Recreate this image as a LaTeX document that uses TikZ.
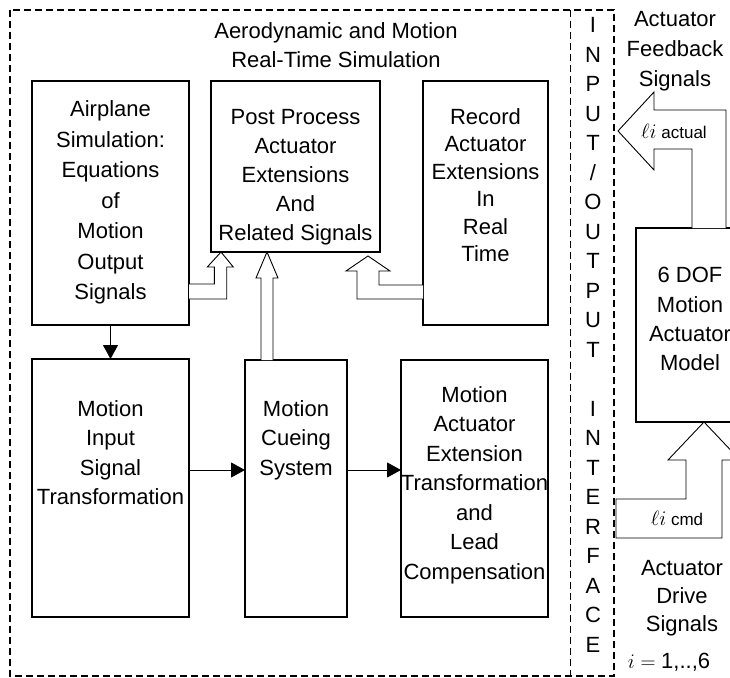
\documentclass[tikz,border=0pt]{standalone}
\usepackage{fontspec}
\setmainfont{Liberation Sans}
\usetikzlibrary{arrows.meta}
\tikzset{
  blk/.style={draw, line width=1.1pt, inner sep=0pt, outer sep=0pt},
  txt/.style={font=\fontsize{22}{#1}\selectfont, align=center, inner sep=0pt},
  txt/.default=29.5,
  small/.style={font=\fontsize{17}{20}\selectfont, inner sep=0pt},
  hol/.style={draw, fill=white, line width=0.9pt, line join=miter},
  conn/.style={line width=1pt, -{Triangle[length=14pt,width=15pt]}},
  frame/.style={line width=1.6pt, dash pattern=on 7pt off 4pt}
}
\newcommand{\sigl}{{\fontsize{21}{24}\selectfont$\ell i$}}
\begin{document}
\begin{tikzpicture}[x=1pt,y=-1pt]
\useasboundingbox (0,0) rectangle (730,677);
\clip (0,0) rectangle (730,677);

% simulation / interface frame
\draw[frame] (10,10) rectangle (614,676);
\draw[frame, line width=1pt] (570,10) -- (570,676);

% blocks
\node[blk, minimum width=157pt, minimum height=244pt] (air) at (110.5,203) {};
\node[blk, minimum width=169pt, minimum height=171pt] (post) at (295.5,166.5) {};
\node[blk, minimum width=125pt, minimum height=244pt] (rec) at (485.5,203) {};
\node[blk, minimum width=157pt, minimum height=258pt] (inp) at (110.5,488) {};
\node[blk, minimum width=102pt, minimum height=257pt] (cue) at (296,488.5) {};
\node[blk, minimum width=147pt, minimum height=257pt] (ext) at (474.5,488.5) {};
\node[blk, minimum width=109pt, minimum height=194pt] (dof) at (690.5,325) {};

% block texts
\node[txt=28.5] (ttl) at (336,47.5) {\strut Aerodynamic and Motion\\Real-Time Simulation\strut};
\node[txt=30.5] (tair) at (110.5,202) {\strut Airplane\\Simulation:\\Equations\\of\\Motion\\Output\\Signals\strut};
\node[txt=29] (tpost) at (295.5,177) {\strut Post Process\\Actuator\\Extensions\\And\\Related Signals\strut};
\node[txt=27.4] (trec) at (485.5,187.5) {\strut Record\\Actuator\\Extensions\\In\\Real\\Time\strut};
\node[txt] (tinp) at (110.5,454.5) {\strut Motion\\Input\\Signal\\Transformation\strut};
\node[txt] (tcue) at (296,440) {\strut Motion\\Cueing\\System\strut};
\node[txt] (text) at (474.5,485) {\strut Motion\\Actuator\\Extension\\Transformation\\and\\Lead\\Compensation\strut};
\node[txt=29.3] (tdof) at (690,321) {\strut 6 DOF\\Motion\\Actuator\\Model\strut};

% interface column
\node[txt] (io) at (593,336.75) {\strut I\\N\\P\\U\\T\\/\\O\\U\\T\\P\\U\\T\\\strut\\I\\N\\T\\E\\R\\F\\A\\C\\E\strut};

% signal labels
\node[txt=30] (fbk) at (675,50) {\strut Actuator\\Feedback\\Signals\strut};
\node[txt=28] (drv) at (682,598) {\strut Actuator\\Drive\\Signals\strut};
\node[font=\fontsize{22}{26}\selectfont, inner sep=0pt] (idx) at (669,662) {$i=\;$1,..,6};

% solid connectors
\draw[conn] (air.south) -- (inp.north);
\draw[conn] (inp.east |- 0,470) -- (cue.west |- 0,470);
\draw[conn] (cue.east |- 0,470) -- (ext.west |- 0,470);

% hollow data-flow arrows into the post-process block
\draw[hol] (air.east |- 0,299) -- (226.7,299) -- (226.7,267) -- (233.3,267)
  -- (post.south -| 221,0) -- (207.3,267) -- (214.3,267) -- (214.3,284) -- (air.east |- 0,284);
\draw[hol] (cue.north -| 261,0) -- (261,278) -- (256,278) -- (post.south -| 267,0)
  -- (278,278) -- (273,278) -- (cue.north -| 273,0);
\draw[hol] (rec.west |- 0,285) -- (379,285) -- (379,271) -- (390,271) -- (368,256)
  -- (346,271) -- (357,271) -- (357,299) -- (rec.west |- 0,299);

% actuator feedback and drive arrows
\draw[hol] (dof.north -| 692,0) -- (692,149) -- (654,149) -- (654,170) -- (618,131)
  -- (654,92) -- (654,110) -- (726,110) -- (dof.north -| 726,0);
\draw[hol] (616,499) -- (686,499) -- (686,460) -- (668,460) -- (dof.south -| 704,0)
  -- (740,460) -- (722,460) -- (722,538) -- (616,538) -- cycle;
\node[small] (lact) at (674,131) {\sigl\ actual};
\node[small] (lcmd) at (677,518) {\sigl\ cmd};
\end{tikzpicture}
\end{document}
